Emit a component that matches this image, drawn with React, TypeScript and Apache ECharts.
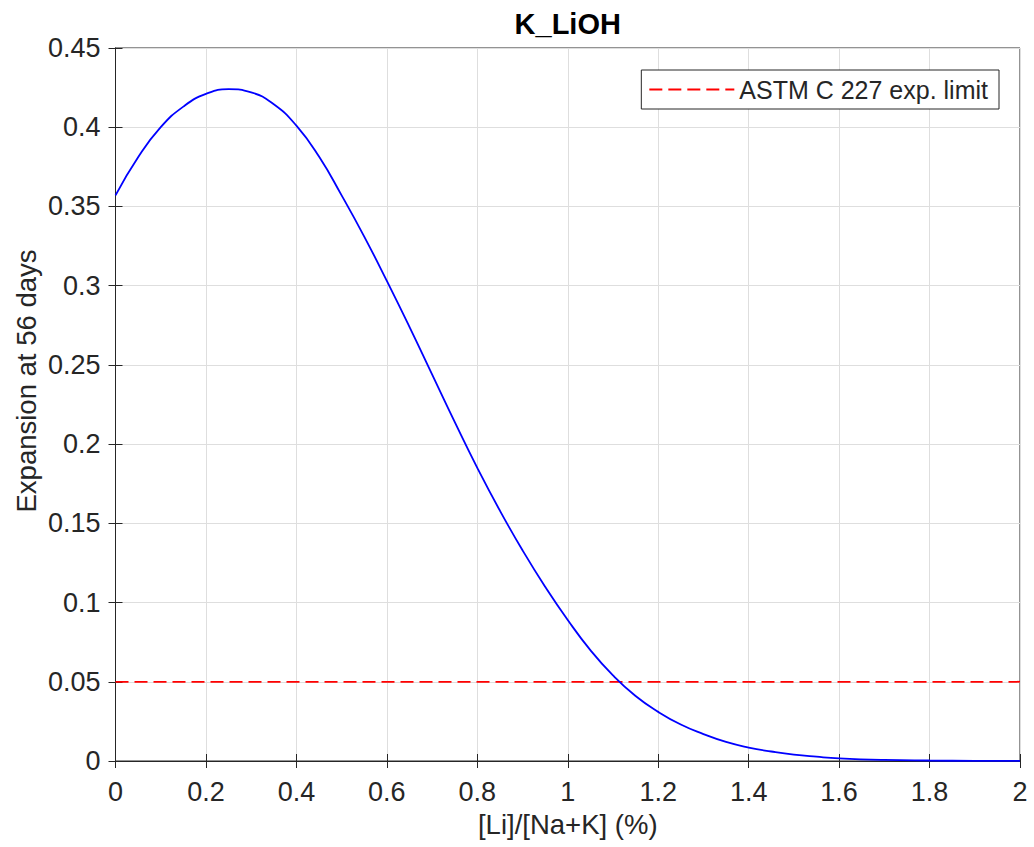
import React, { useEffect, useRef } from "react";
import * as echarts from "echarts";

const chartTitle = "K_LiOH";
const xAxisName = "[Li]/[Na+K] (%)";
const yAxisName = "Expansion at 56 days";
const limitName = "ASTM C 227 exp. limit";

const xValues = [
  0, 0.05, 0.1, 0.15, 0.2, 0.25, 0.3, 0.35, 0.4, 0.45, 0.5, 0.55, 0.6, 0.65,
  0.7, 0.75, 0.8, 0.85, 0.9, 0.95, 1.0, 1.05, 1.1, 1.15, 1.2, 1.25, 1.3, 1.35,
  1.4, 1.45, 1.5, 1.55, 1.6, 1.7, 1.8, 1.9, 2.0,
];
const expansion = [
  0.357, 0.381, 0.4, 0.413, 0.421, 0.424, 0.422, 0.4145, 0.401, 0.3815, 0.357,
  0.331, 0.303, 0.274, 0.244, 0.214, 0.185, 0.158, 0.133, 0.11, 0.089, 0.07,
  0.054, 0.041, 0.031, 0.023, 0.017, 0.012, 0.0085, 0.006, 0.004, 0.0027,
  0.0017, 0.0007, 0.0003, 0.0001, 0.00003,
];
const limitX = [0, 2];
const limitY = [0.05, 0.05];

const FONT = "'Liberation Sans', Arial, Helvetica, sans-serif";
const AX = "#262626";

export default function App() {
  const ref = useRef<HTMLDivElement>(null);
  useEffect(() => {
    if (!ref.current) return;
    const chart = echarts.init(ref.current, undefined, { renderer: "svg" });
    const gridL = 115.5;
    const gridR = 14;
    const gridT = 48;
    const gridB = 86;
    const fmt = (v: number) => String(+v.toFixed(2));
    chart.setOption({
      animation: false,
      backgroundColor: "#ffffff",
      textStyle: { fontFamily: FONT },
      grid: {
        left: gridL,
        right: gridR,
        top: gridT,
        bottom: gridB,
        show: true,
        borderColor: AX,
        borderWidth: 1,
        backgroundColor: "#ffffff",
      },
      legend: {
        data: [limitName],
        right: 35,
        top: 70,
        itemWidth: 85,
        itemHeight: 14,
        padding: [7, 11, 7, 7],
        borderColor: AX,
        borderWidth: 1,
        backgroundColor: "#ffffff",
        itemStyle: { opacity: 0 },
        textStyle: { fontSize: 25, color: AX, fontFamily: FONT },
      },
      xAxis: [
        {
          type: "value",
          min: 0,
          max: 2,
          interval: 0.2,
          name: xAxisName,
          nameLocation: "middle",
          nameGap: 49,
          nameTextStyle: { fontSize: 27.5, color: AX, fontFamily: FONT },
          axisLine: { show: true, lineStyle: { color: AX, width: 1 } },
          axisTick: { show: true, inside: true, length: 7, lineStyle: { color: AX } },
          axisLabel: { fontSize: 27, color: AX, margin: 17, formatter: fmt, fontFamily: FONT },
          splitLine: { show: true, lineStyle: { color: "#dedede", width: 1 } },
        },
        {
          type: "value",
          position: "top",
          min: 0,
          max: 2,
          interval: 0.2,
          axisLine: { show: true, lineStyle: { color: AX, width: 1 } },
          axisTick: { show: true, inside: true, length: 7, lineStyle: { color: AX } },
          axisLabel: { show: false },
          splitLine: { show: false },
        },
      ],
      yAxis: [
        {
          type: "value",
          min: 0,
          max: 0.45,
          interval: 0.05,
          axisLine: { show: true, lineStyle: { color: AX, width: 1 } },
          axisTick: { show: true, inside: true, length: 7, lineStyle: { color: AX } },
          axisLabel: { fontSize: 27, color: AX, margin: 15, formatter: fmt, fontFamily: FONT },
          splitLine: { show: true, lineStyle: { color: "#dedede", width: 1 } },
        },
        {
          type: "value",
          position: "right",
          min: 0,
          max: 0.45,
          interval: 0.05,
          axisLine: { show: true, lineStyle: { color: AX, width: 1 } },
          axisTick: { show: true, inside: true, length: 7, lineStyle: { color: AX } },
          axisLabel: { show: false },
          splitLine: { show: false },
        },
      ],
      graphic: [
        {
          type: "text",
          x: 567.75,
          y: 24,
          style: {
            text: chartTitle,
            fontSize: 29,
            fontWeight: "bold",
            fontFamily: FONT,
            fill: "#000000",
            align: "center",
            verticalAlign: "middle",
          },
        },
        {
          type: "text",
          x: 26,
          y: 381,
          rotation: Math.PI / 2,
          style: {
            text: yAxisName,
            fontSize: 27.5,
            fontFamily: FONT,
            fill: AX,
            align: "center",
            verticalAlign: "middle",
          },
        },
      ],
      series: [
        {
          name: "K_LiOH",
          type: "line",
          data: xValues.map((x, i) => [x, expansion[i]]),
          smooth: true,
          showSymbol: false,
          symbol: "none",
          lineStyle: { color: "#0000ff", width: 1.8 },
          itemStyle: { color: "#0000ff" },
          z: 3,
        },
        {
          name: limitName,
          type: "line",
          data: limitX.map((x, i) => [x, limitY[i]]),
          symbol: "none",
          showSymbol: false,
          lineStyle: { color: "#ff0000", width: 1.8, type: [13, 6] },
          itemStyle: { color: "#ff0000" },
          z: 2,
        },
      ],
    });
    return () => chart.dispose();
  }, []);
  return (
    <div
      ref={ref}
      style={{ position: "fixed", left: 0, top: 0, width: 1034, height: 847 }}
    />
  );
}
